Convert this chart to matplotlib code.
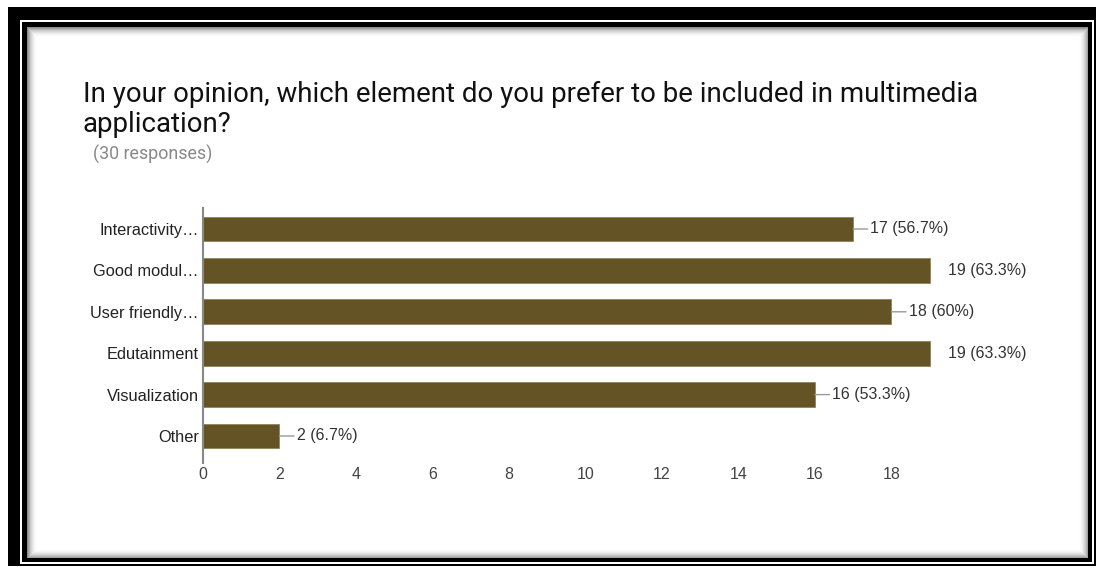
import matplotlib
matplotlib.use("Agg")
import matplotlib.pyplot as plt
from matplotlib.patches import Rectangle

W, H = 1097, 568

categories = ["Interactivity…", "Good modul…", "User friendly…", "Edutainment", "Visualization", "Other"]
counts = [17, 19, 18, 19, 16, 2]
percents = ["56.7%", "63.3%", "60%", "63.3%", "53.3%", "6.7%"]
xticks = [0, 2, 4, 6, 8, 10, 12, 14, 16, 18]

BAR_COLOR = "#645425"
TITLE_LINES = ["In your opinion, which element do you prefer to be included in multimedia",
               "application?"]
FONT = "Liberation Sans"


def px_rect(x0, y0, x1, y1, **kw):
    """Rectangle given in pixel coords measured from the top-left corner."""
    return Rectangle((x0 / W, 1 - y1 / H), (x1 - x0) / W, (y1 - y0) / H,
                     transform=fig.transFigure, **kw)


fig = plt.figure(figsize=(W / 100, H / 100), dpi=100)
fig.patch.set_facecolor("white")

# double frame around the card
fig.add_artist(px_rect(8, 7, 1096, 566, facecolor="black", edgecolor="none", zorder=0))
fig.add_artist(px_rect(20, 20, 1094, 564, facecolor="white", edgecolor="none", zorder=0))
fig.add_artist(px_rect(22, 22, 1092, 562, facecolor="black", edgecolor="none", zorder=0))
fig.add_artist(px_rect(27, 27, 1088, 558, facecolor="white", edgecolor="none", zorder=0))
# soft inner shadow
for i in range(10):
    a = 0.45 * (1 - i / 10) ** 2
    fig.add_artist(px_rect(27 + i, 27 + i, 1088 - i, 558 - i, facecolor="none",
                           edgecolor="black", alpha=a, linewidth=0.72, zorder=0))

# title, one text per line so each baseline sits where it should
for line, base in zip(TITLE_LINES, [102, 132]):
    fig.text(83 / W, 1 - base / H, line, ha="left", va="baseline", fontsize=19.9,
             family="Roboto", color="#111111")
fig.text(93 / W, 1 - 160 / H, "(30 responses)", ha="left", va="baseline",
         fontsize=12.9, family="Roboto", color="#888888")

ax = fig.add_axes([203 / W, 1 - 463 / H, 805 / W, 255 / H])
ax.set_facecolor("none")
y = list(range(len(categories)))
ax.barh(y, counts, height=0.6, color=BAR_COLOR, edgecolor="#8a7a50", linewidth=0.5, zorder=2)
ax.set_xlim(0, 21.05)
ax.set_ylim(5 + 27 / 41.4, -21 / 41.4)

for yi, c, p in zip(y, counts, percents):
    label = "{} ({})".format(c, p)
    if c >= 19:
        ax.annotate(label, (c, yi), xytext=(13.5, 0), textcoords="offset points",
                    ha="left", va="center", fontsize=11.5, family=FONT,
                    color="#333333")
    else:
        ax.annotate(label, (c, yi), xytext=(12.5, 0), textcoords="offset points",
                    ha="left", va="center", fontsize=11.5, family=FONT,
                    color="#333333",
                    arrowprops=dict(arrowstyle="-", color="#999999", lw=1,
                                    shrinkA=0, shrinkB=0))

ax.set_yticks(y)
ax.set_yticklabels(categories, family=FONT, fontsize=11.8, color="#222222")
ax.set_xticks(xticks)
ax.set_xticklabels([str(t) for t in xticks], family=FONT, fontsize=11.5,
                   color="#444444")
ax.tick_params(axis="both", length=0)
ax.tick_params(axis="y", pad=3)
ax.tick_params(axis="x", pad=3)
for side in ["top", "right", "bottom"]:
    ax.spines[side].set_visible(False)
ax.spines["left"].set_color("#888888")
ax.spines["left"].set_linewidth(1.5)

fig.savefig("out.png", dpi=100)
